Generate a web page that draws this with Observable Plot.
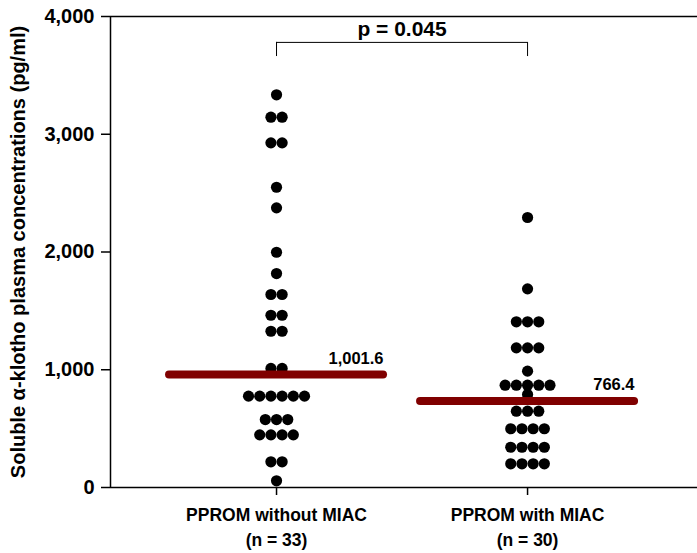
<!DOCTYPE html>
<html>
<head>
<meta charset="utf-8">
<script src="https://cdn.jsdelivr.net/npm/d3@7"></script>
<script src="https://cdn.jsdelivr.net/npm/@observablehq/plot@0.6"></script>
<style>
  html, body { margin: 0; padding: 0; background: #fff; }
  #chart svg { display: block; }
</style>
</head>
<body>
<div id="chart"></div>
<script>
// ---- data ----
const groups = ["PPROM without MIAC", "PPROM with MIAC"];
const groupN = [33, 30];
const withoutMIAC = [3335, 3145, 3145, 2927, 2927, 2550, 2375, 1998, 1817, 1639, 1639,
  1463, 1463, 1327, 1327, 1011, 1011, 776, 776, 776, 776, 776, 776,
  577, 577, 577, 447, 447, 447, 447, 218, 218, 57];
const withMIAC = [2293, 1687, 1407, 1407, 1407, 1186, 1186, 1186, 988,
  869, 869, 869, 869, 869, 790, 648, 648, 648,
  499, 499, 499, 499, 342, 342, 342, 342, 201, 201, 201, 201];
const lineValues = [960, 735];
const lineLabels = ["1,001.6", "766.4"];
const pLabel = "p = 0.045";
const yTicks = [0, 1000, 2000, 3000, 4000];
const yTitle = "Soluble \u03B1-klotho plasma concentrations (pg/ml)";

// ---- layout ----
const W = 697, H = 553;
const mL = 110, mR = 0, mT = 16, mB = 66;
const xDomain = [0.3386, 2.677];
const pxPerUnit = (W - mL - mR) / (xDomain[1] - xDomain[0]);
const dotStep = 11.2 / pxPerUnit;

// beeswarm rows: identical values spread symmetrically
function layout(values, g) {
  const counts = d3.rollup(values, v => v.length, d => d);
  const seen = new Map();
  return values.map(v => {
    const n = counts.get(v);
    const i = seen.get(v) || 0;
    seen.set(v, i + 1);
    return {x: g + (i - (n - 1) / 2) * dotStep, y: v};
  });
}
const points = [...layout(withoutMIAC, 1), ...layout(withMIAC, 2)];
const medians = lineValues.map((v, i) => ({g: i + 1, v, label: lineLabels[i]}));
const halfLen = 107 / pxPerUnit;

const font = "'Liberation Sans', Arial, Helvetica, sans-serif";

const chart = Plot.plot({
  width: W, height: H,
  marginLeft: mL, marginRight: mR, marginTop: mT, marginBottom: mB,
  style: {fontFamily: font, fontWeight: "bold", color: "#000", background: "#fff"},
  x: {type: "linear", domain: xDomain},
  y: {domain: [0, 4000]},
  marks: [
    Plot.axisY({ticks: yTicks, tickFormat: d3.format(","), tickSize: 9, tickPadding: 7,
      fontSize: 20, fontWeight: "bold", strokeWidth: 1.5, label: null}),
    Plot.axisX({ticks: [1, 2], tickFormat: d => `${groups[d - 1]}\n(n = ${groupN[d - 1]})`,
      tickSize: 8, tickPadding: 8, fontSize: 17.5, lineHeight: 1.42, fontWeight: "bold",
      strokeWidth: 1.5, label: null}),
    Plot.ruleX([xDomain[0]], {y1: 0, y2: 4000, stroke: "#000", strokeWidth: 1.5}),
    Plot.ruleY([0, 4000], {stroke: "#000", strokeWidth: 1.5}),
    Plot.text([yTitle], {frameAnchor: "left", rotate: -90, dx: -92, textAnchor: "middle",
      fontSize: 20, fontWeight: "bold", fill: "#000"}),
    // significance bracket
    Plot.ruleY([3780], {x1: 1, x2: 2, stroke: "#000", strokeWidth: 1}),
    Plot.ruleX([1, 2], {y1: 3660, y2: 3780, stroke: "#000", strokeWidth: 1}),
    Plot.text([pLabel], {x: 1.5, y: 3890, fontSize: 21, fontWeight: "bold", fill: "#000"}),
    // dots
    Plot.dot(points, {x: "x", y: "y", r: 5.6, fill: "#000", stroke: "none"}),
    // median lines
    Plot.ruleY(medians, {y: "v", x1: d => d.g - halfLen, x2: d => d.g + halfLen,
      stroke: "#800000", strokeWidth: 8, strokeLinecap: "round"}),
    Plot.text(medians, {x: d => d.g + halfLen, y: "v", text: "label", textAnchor: "end",
      dy: -16, fontSize: 16.5, fontWeight: "bold", fill: "#000"})
  ]
});
document.getElementById("chart").appendChild(chart);
</script>
</body>
</html>
